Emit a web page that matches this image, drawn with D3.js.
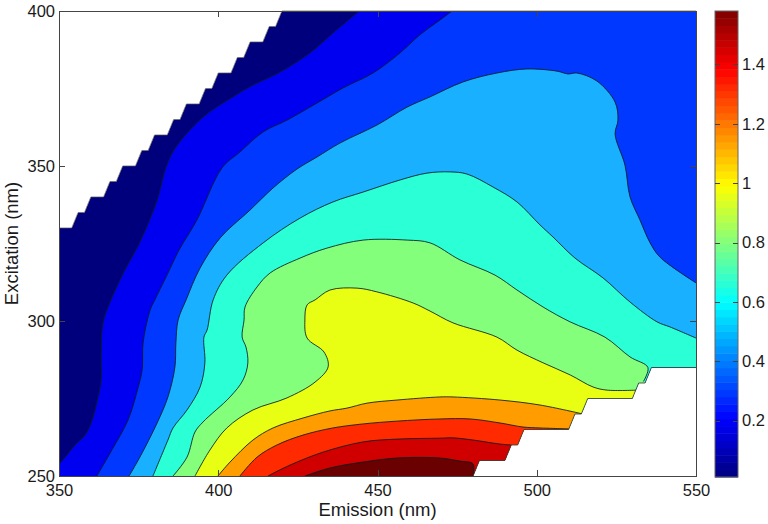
<!DOCTYPE html>
<html>
<head>
<meta charset="utf-8">
<script src="https://cdnjs.cloudflare.com/ajax/libs/d3/7.8.5/d3.min.js"></script>
<style>
html, body { margin: 0; padding: 0; background: #fff; }
svg { display: block; }
text { font-family: "Liberation Sans", Arial, sans-serif; fill: #1a1a1a; }
.axis path, .axis line { stroke: #444; stroke-width: 1; shape-rendering: crispEdges; }
</style>
</head>
<body>
<div id="graphWrapper"></div>
<script>
// measured region of the contour plot: [emission, excitation]
var measuredOutline = [[350,250],[350,330],[354,330],[356,335],[358,335],[360,340],[364,340],[366,345],[368,345],[370,350],[374,350],[376,355],[378,355],[380,360],[384,360],[386,365],[388,365],[390,370],[394,370],[396,375],[398,375],[400,380],[404,380],[406,385],[408,385],[410,390],[414,390],[416,395],[418,395],[420,400],[550,400],[550,285],[536,285],[534,280],[532,280],[530,275],[516,275],[514,270],[512,270],[510,265],[496,265],[494,260],[492,260],[490,255],[482,255],[480,250]];

// contour lines, low to high
var contour1 = [[350,253.9],[352.5,256.8],[355,260],[358.2,263.2],[360.4,268.1],[361.9,273.9],[363.2,281],[363.2,287.4],[363.8,299.4],[366.3,306.8],[370.7,316.5],[375.4,325.5],[380.8,339],[383.3,348.7],[386.1,355.2],[394.9,365.5],[404.6,372.3],[410.9,376.1],[419.4,380.3],[428.8,386.5],[436,392.9],[444.2,400]];
var contour2 = [[361.9,250],[366.6,258.4],[371.7,268.1],[374.8,278.4],[376.1,284.2],[376.4,292.9],[378.6,303.5],[380.1,306.8],[383.9,314.8],[387.7,322.9],[393.3,332.6],[401.2,349.4],[406.8,354.5],[414.1,361],[421.6,364.8],[431,370.3],[439.2,375.2],[448.6,380],[457.1,386.5],[463.3,392.3],[469.6,397.1],[473.4,400]];
var contour3 = [[372,250],[375.4,256.1],[380.8,267.1],[384.2,275.5],[386.4,285.2],[386.7,292.9],[387.4,300.3],[389.9,306.8],[394.3,317.1],[400.6,326.8],[410,335.8],[417.2,342.9],[424.7,349],[431,352.9],[438.2,357.4],[449.8,363.2],[459.3,369],[466.5,372.3],[476.8,377.1],[487.5,380],[496.9,381.3],[506.4,380.6],[509.8,379.7],[512.6,380],[518.9,377.4],[524.6,370.6],[525.5,364.8],[524.6,360.3],[527.7,350.3],[529.3,340],[532.4,332.6],[535.6,325.2],[538.7,320.6],[550,312.3]];
var contour4 = [[379.5,250],[384.2,261.6],[385.8,265.5],[390.2,271.3],[394.3,278.7],[395.8,286.5],[395.5,294.8],[396.5,297.1],[398.4,306.8],[402.7,314.8],[414.1,325.2],[425.7,333.2],[436,338.4],[445.5,341.6],[457.1,345.5],[465.5,347.7],[472.8,348.1],[478.1,347.4],[486.3,343.2],[493.8,338.4],[501,331],[505.1,327.1],[512,320.3],[520.8,313.9],[529.3,306.1],[537.8,299.7],[541.8,298.1],[550,294.5]];
var contour5 = [[385.8,250],[390.2,256.1],[392.7,264.2],[395.2,267.4],[403.7,275.5],[407.8,281],[409.3,286.5],[408.7,291.6],[407.5,294.8],[408.1,300.3],[408.4,304.5],[412.2,311],[416.3,315.5],[425.7,320.3],[434.1,323.5],[445.5,326.1],[459.3,326.1],[466.5,325.2],[475.9,319.7],[486.9,314.8],[493.8,310],[502,304.5],[510.5,299.7],[521.4,294.8],[529.3,288.4],[534.9,285],[533.5,280.5]];
var contour6 = [[392.7,250],[397.4,258.4],[402.7,265.5],[410.9,271.3],[421.6,275.2],[430.4,280.3],[434.5,285.2],[433.2,290],[427.9,294.5],[427.2,300.3],[427.9,305.2],[430.4,306.8],[435.1,310],[443.6,310.6],[449.8,309.4],[461.2,305.8],[466.5,303.2],[473.7,299.4],[487.5,294.8],[493.8,290.6],[502,286.5],[510.5,282.6],[517.7,278.7],[522.1,277.7],[531.5,277.7]];
var contour7 = [[399.9,250],[403.7,254.5],[410.9,261.6],[417.2,265.5],[426.6,268.7],[435.1,271],[440.4,271.9],[446.7,273.5],[456.1,274.5],[469.6,275.5],[473.7,275.5],[488.5,274.5],[501,272.9],[514.5,270]];
var contour8 = [[406.8,250],[412.2,256.1],[418.4,260],[426.6,263.2],[436,265.5],[445.5,266.8],[456.1,267.7],[469.6,268.4],[479.1,268.4],[488.5,267.1],[495.7,265.8],[501,265.5],[510.1,265.2]];
var contour9 = [[415.6,250],[422.5,253.5],[432.9,257.7],[445.5,261],[456.1,261.9],[469.6,262.2],[473.7,262.3],[480,261.6],[488.5,260.3],[492,260]];
var contour10 = [[427.2,250],[435.1,252.6],[445.5,254.5],[456.1,255.8],[469.6,255.8],[475.9,254.8],[480,253.9],[480,250]];
var contourLines = [contour1, contour2, contour3, contour4, contour5, contour6, contour7, contour8, contour9, contour10];

var bandColors = ["#00007c","#0000f0","#0038ff","#18b0ff","#2affd5","#84ff7c","#e8ff14","#ff9c00","#ff2a00","#d00000","#6a0000"];
var emissionTicks = [350,400,450,500,550];
var excitationTicks = [250,300,350,400];
var colorbarTicks = [0.2,0.4,0.6,0.8,1,1.2,1.4];
var colorbarRange = [0.01,1.58];

var w = 768;
var h = 524;
var margin = {top: 11, bottom: 48, left: 59, right: 72};
var plotRight = w - margin.right;
var plotBottom = h - margin.bottom;

var svg = d3.select("#graphWrapper").append("svg")
    .attr("width", w)
    .attr("height", h);

var x = d3.scaleLinear().domain([350,550]).range([margin.left, plotRight]);
var y = d3.scaleLinear().domain([250,400]).range([plotBottom, margin.top]);

var line = d3.line()
    .x(function(d){ return x(d[0]); })
    .y(function(d){ return y(d[1]); });
var contourPath = d3.line()
    .curve(d3.curveCatmullRom.alpha(0.5))
    .x(function(d){ return x(d[0]); })
    .y(function(d){ return y(d[1]); });

svg.append("defs").append("clipPath")
    .attr("id", "measured")
    .append("path")
    .attr("d", line(measuredOutline) + "Z");

var plot = svg.append("g").attr("clip-path", "url(#measured)");

// lowest band fills the whole measured region, each next one is painted on top
plot.append("path")
    .attr("d", line(measuredOutline) + "Z")
    .attr("fill", bandColors[0]);

plot.selectAll(".band")
    .data(contourLines)
    .enter()
    .append("path")
    .classed("band", true)
    .attr("fill", function(d,i){ return bandColors[i + 1]; })
    .attr("d", function(d){
        var last = d[d.length - 1];
        var tail = [[550,last[1]],[550,250],[d[0][0],250]];
        return contourPath(d) + tail.map(function(p){
            return "L" + x(p[0]) + "," + y(p[1]);
        }).join("") + "Z";
    });

plot.selectAll(".level")
    .data(contourLines)
    .enter()
    .append("path")
    .classed("level", true)
    .attr("fill", "none")
    .attr("stroke", "#0a1a20")
    .attr("stroke-width", 0.85)
    .attr("stroke-linejoin", "round")
    .attr("d", function(d){ return contourPath(d); });

svg.append("path")
    .attr("d", line(measuredOutline.slice(1, 31)))
    .attr("fill", "none")
    .attr("stroke", "#555")
    .attr("stroke-width", 0.7);
svg.append("path")
    .attr("d", line(measuredOutline.slice(31)))
    .attr("fill", "none")
    .attr("stroke", "#333")
    .attr("stroke-width", 0.8);

// axes, ticks point inward like the matlab box
function drawBox(g, scaleX, scaleY){
    g.append("g").classed("axis", true)
        .attr("transform", "translate(0," + plotBottom + ")")
        .call(d3.axisBottom(scaleX).tickValues(emissionTicks).tickSizeInner(-6).tickSizeOuter(0).tickPadding(8).tickFormat(d3.format("d")));
    g.append("g").classed("axis", true)
        .attr("transform", "translate(0," + margin.top + ")")
        .call(d3.axisTop(scaleX).tickValues(emissionTicks).tickSizeInner(-6).tickSizeOuter(0).tickFormat(""));
    g.append("g").classed("axis", true)
        .attr("transform", "translate(" + margin.left + ",0)")
        .call(d3.axisLeft(scaleY).tickValues(excitationTicks).tickSizeInner(-6).tickSizeOuter(0).tickPadding(4).tickFormat(d3.format("d")));
    g.append("g").classed("axis", true)
        .attr("transform", "translate(" + plotRight + ",0)")
        .call(d3.axisRight(scaleY).tickValues(excitationTicks).tickSizeInner(-6).tickSizeOuter(0).tickFormat(""));
}
drawBox(svg, x, y);
svg.selectAll(".axis text").style("font-size", "16.5px").style("fill", "#1a1a1a").style("font-family", "'Liberation Sans', Arial, sans-serif");

svg.append("text")
    .attr("x", (margin.left + plotRight) / 2)
    .attr("y", 516)
    .attr("text-anchor", "middle")
    .style("font-size", "18.5px")
    .text("Emission (nm)");
svg.append("text")
    .attr("text-anchor", "middle")
    .attr("transform", "translate(18," + (margin.top + plotBottom) / 2 + ") rotate(-90)")
    .style("font-size", "18.5px")
    .text("Excitation (nm)");

// colorbar, 64 step jet map
var barLeft = 715;
var barRight = 738;
var barY = d3.scaleLinear().domain(colorbarRange).range([477, margin.top]);

function jet(t){
    function chan(v){ return Math.round(255 * Math.max(0, Math.min(1, 1.5 - Math.abs(v)))); }
    return d3.rgb(chan(4 * t - 3), chan(4 * t - 2), chan(4 * t - 1));
}
var steps = d3.range(64);
var stepScale = d3.scaleLinear().domain([0,64]).range(colorbarRange);

svg.selectAll(".step")
    .data(steps)
    .enter()
    .append("rect")
    .classed("step", true)
    .attr("x", barLeft)
    .attr("width", barRight - barLeft)
    .attr("y", function(d){ return barY(stepScale(d + 1)); })
    .attr("height", function(d){ return barY(stepScale(d)) - barY(stepScale(d + 1)) + 0.5; })
    .attr("fill", function(d){ return jet((d + 0.5) / 64); });

svg.append("rect")
    .attr("x", barLeft)
    .attr("y", margin.top)
    .attr("width", barRight - barLeft)
    .attr("height", 477 - margin.top)
    .attr("fill", "none")
    .attr("stroke", "#666");

var barAxis = svg.append("g").classed("axis", true)
    .attr("transform", "translate(" + barRight + ",0)")
    .call(d3.axisRight(barY).tickValues(colorbarTicks).tickSizeInner(-5).tickSizeOuter(0).tickPadding(4).tickFormat(d3.format("~g")));
barAxis.selectAll("text").style("font-size", "16.5px").style("fill", "#1a1a1a").style("font-family", "'Liberation Sans', Arial, sans-serif");
barAxis.select(".domain").remove();
svg.append("g").classed("axis", true)
    .attr("transform", "translate(" + barLeft + ",0)")
    .call(d3.axisLeft(barY).tickValues(colorbarTicks).tickSizeInner(-5).tickSizeOuter(0).tickFormat(""))
    .select(".domain").remove();
</script>
</body>
</html>
